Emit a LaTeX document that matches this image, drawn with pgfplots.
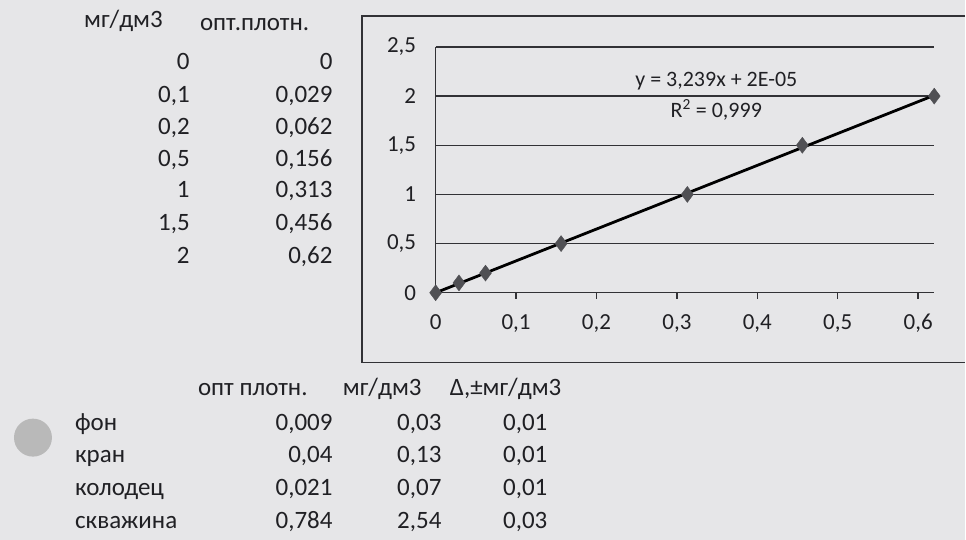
\documentclass[border=0pt]{standalone}
\usepackage{pgfplots}
\pgfplotsset{compat=1.18}
\usepackage{fontspec}
\setmainfont{Carlito}
\definecolor{paper}{RGB}{230,230,232}
\definecolor{ink}{RGB}{32,32,36}
\definecolor{gridc}{RGB}{50,50,54}
\definecolor{markc}{RGB}{80,80,84}
\newcommand\tf{\fontsize{25}{29}\selectfont}
\begin{document}
\begin{tikzpicture}[x=1pt,y=1pt]
\fill[paper] (0,0) rectangle (966,540);
% top table
\begin{scope}[every node/.style={text=ink,font=\tf,inner sep=0pt}]
\node[anchor=base west] at (84,540-20-8) {мг/дм3};
\node[anchor=base west] at (200,540-23-8) {опт.плотн.};
\foreach \a/\b/\y in {0/0/62, {0,1}/{0,029}/95, {0,2}/{0,062}/127, {0,5}/{0,156}/159, 1/{0,313}/190, {1,5}/{0,456}/223, 2/{0,62}/256}{
  \node[anchor=base east] at (190,540-\y-8) {\a};
  \node[anchor=base east] at (333,540-\y-8) {\b};
}
% bottom table
\node[anchor=base west] at (198,540-388-8) {опт плотн.};
\node[anchor=base west] at (343,540-388-8) {мг/дм3};
\node[anchor=base west] at (450,540-388-8) {Δ,±мг/дм3};
\foreach \n/\a/\b/\c/\y in {фон/{0,009}/{0,03}/{0,01}/423, кран/{0,04}/{0,13}/{0,01}/455, колодец/{0,021}/{0,07}/{0,01}/488, скважина/{0,784}/{2,54}/{0,03}/521}{
  \node[anchor=base west] at (75,540-\y-8) {\n};
  \node[anchor=base east] at (333,540-\y-8) {\a};
  \node[anchor=base east] at (442,540-\y-8) {\b};
  \node[anchor=base east] at (548,540-\y-8) {\c};
}
\end{scope}
\fill[gray!55] (33,540-438) circle (19);
% chart frame
\draw[gridc, line width=1.6pt] (966,540-16) -- (362,540-16) -- (362,540-363) -- (966,540-363);
\begin{axis}[
  at={(436pt,247pt)}, anchor=south west,
  scale only axis, width=499pt, height=246pt,
  xmin=0, xmax=0.62, ymin=0, ymax=2.5,
  axis x line*=bottom, axis y line*=left,
  axis line style={-, gridc, line width=1.4pt},
  xtick={0,0.1,0.2,0.3,0.4,0.5,0.6},
  ytick={0,0.5,1,1.5,2,2.5},
  tick align=outside, major tick length=6pt,
  xtick style={gridc, line width=1.4pt},
  ytick style={draw=none},
  ymajorgrids, grid style={gridc, line width=1.4pt},
  /pgf/number format/.cd, use comma, 1000 sep={}, assume math mode=true,
  /pgfplots/.cd,
  tick label style={font=\fontsize{23}{27}\selectfont, text=ink},
  yticklabel style={xshift=-10pt},
  xticklabel style={yshift=-12pt},
  clip=false,
]
\addplot[only marks, mark=diamond*, mark size=8pt, mark options={fill=markc, draw=markc}]
  coordinates {(0,0) (0.029,0.1) (0.062,0.2) (0.156,0.5) (0.313,1) (0.456,1.5) (0.62,2)};
\addplot[black, line width=2.8pt] coordinates {(0,0.00002) (0.62,2.0082)};
\node[text=ink, font=\fontsize{22}{26}\selectfont] at (axis cs:0.349,2.15) {y = 3,239x + 2E-05};
\node[text=ink, font=\fontsize{22}{26}\selectfont] at (axis cs:0.349,1.86) {R\textsuperscript{2} = 0,999};
\end{axis}
\end{tikzpicture}
\end{document}
